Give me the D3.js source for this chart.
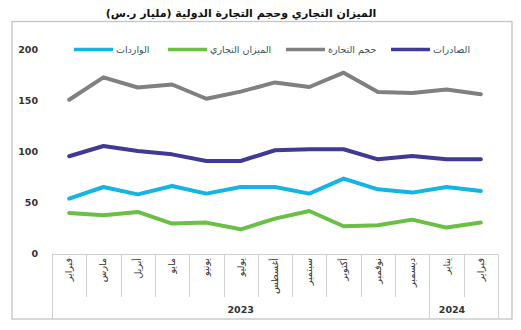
<!DOCTYPE html>
<html><head><meta charset="utf-8">
<script src="https://cdn.jsdelivr.net/npm/d3@7"></script>
<style>body{margin:0;background:#fff}svg{display:block}text{font-family:"DejaVu Sans",sans-serif}</style>
</head><body><svg id="c" width="521" height="330"></svg>
<script>
const months = ["فبراير","مارس","أبريل","مايو","يونيو","يوليو","أغسطس","سبتمبر","أكتوبر","نوفمبر","ديسمبر","يناير","فبراير"];
const years = [{label:"2023", from:0, to:11},{label:"2024", from:11, to:13}];
const exportsV = [95.6,105.7,100.8,97.5,91,91,101.5,102.5,102.5,92.6,95.9,92.6,92.6];
const importsV = [54,65.5,58.3,66.5,59,65.5,65.5,59,73.7,63.2,60,65.5,61.6];
const balanceV = [40,37.7,41,29.6,30.6,24,34.5,42,27,28,33.5,25.7,30.6];
const volumeV = [151,173,163,166,152,159,168,163.5,177.6,158.6,157.6,161,156.4];
const yTicks = [0,50,100,150,200];
const seriesNames = ["الصادرات","حجم التجارة","الميزان التجاري","الواردات"];
const seriesColors = ["#3f3a96","#808080","#6abf45","#14b4e4"];
const title = "الميزان التجاري وحجم التجارة الدولية (مليار ر.س)";

const svg = d3.select("#c");
svg.append("rect").attr("x",12).attr("y",21.5).attr("width",500).attr("height",297.5)
  .attr("fill","none").attr("stroke","#c4c4c4").attr("stroke-width",1.3);
svg.append("text").attr("x",241).attr("y",17).attr("text-anchor","middle")
  .attr("font-size",11).attr("font-weight","bold").attr("fill","#111").text(title);

const x = d3.scaleBand().domain(d3.range(months.length)).range([52,498]);
const y = d3.scaleLinear().domain([0,200]).range([253.8,49.8]);

// y tick labels
svg.append("g").selectAll("text").data(yTicks).join("text")
  .attr("x",38).attr("y",d=>y(d)+3.5).attr("text-anchor","end")
  .attr("font-size",9.5).attr("font-weight","bold").attr("fill","#333").text(d=>d);

// x axis
const g = svg.append("g").attr("stroke","#d0d0d0").attr("stroke-width",1);
g.append("line").attr("x1",52).attr("x2",498).attr("y1",254.5).attr("y2",254.5);
const bounds = d3.range(months.length+1);
const yearBounds = new Set(years.flatMap(d=>[d.from,d.to]));
g.selectAll("line.t").data(bounds).join("line").attr("class","t")
  .attr("x1",i=>Math.round(i<months.length?x(i):x.range()[1])+0.5)
  .attr("x2",i=>Math.round(i<months.length?x(i):x.range()[1])+0.5)
  .attr("y1",254.5).attr("y2",i=>yearBounds.has(i)?319:297);

svg.append("g").selectAll("text").data(months).join("text")
  .attr("transform",(d,i)=>`translate(${x(i)+x.bandwidth()/2+3},258) rotate(-90)`)
  .attr("text-anchor","end").attr("font-size",9.5).attr("fill","#333").text(d=>d);
svg.append("g").selectAll("text").data(years).join("text")
  .attr("x",d=>d.label==="2024"?452:(x(d.from)+ (d.to<months.length?x(d.to):498))/2)
  .attr("y",313).attr("text-anchor","middle").attr("font-size",9.5).attr("font-weight","bold")
  .attr("fill","#333").text(d=>d.label);

// lines
const line = d3.line().x((d,i)=>x(i)+x.bandwidth()/2).y(d=>y(d));
const allSeries = [volumeV, exportsV, importsV, balanceV];
const allColors = [seriesColors[1], seriesColors[0], seriesColors[3], seriesColors[2]];
svg.append("g").selectAll("path").data(allSeries).join("path")
  .attr("d",d=>line(d)).attr("fill","none").attr("stroke",(d,i)=>allColors[i])
  .attr("stroke-width",4).attr("stroke-linejoin","round").attr("stroke-linecap","round");

// legend
const legendLineX = [391,286,168,74];
const leg = svg.append("g").selectAll("g").data(seriesNames).join("g");
leg.append("line").attr("x1",(d,i)=>legendLineX[i]).attr("x2",(d,i)=>legendLineX[i]+39)
  .attr("y1",49.5).attr("y2",49.5).attr("stroke",(d,i)=>seriesColors[i]).attr("stroke-width",3.5);
leg.append("text").attr("x",(d,i)=>legendLineX[i]+42).attr("y",52.5)
  .attr("font-size",9.5).attr("fill","#3b5560").text(d=>d);
</script></body></html>
